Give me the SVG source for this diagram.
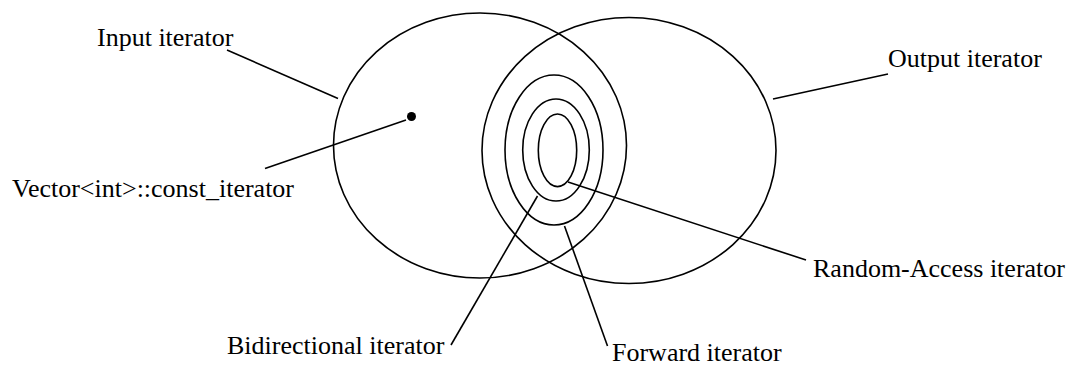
<svg xmlns="http://www.w3.org/2000/svg" width="1074" height="365" viewBox="0 0 1074 365">
<style>
.e{fill:none;stroke:#000;stroke-width:1.6}
.l{stroke:#000;stroke-width:1.6;fill:none}
text{font-family:"Liberation Serif","Times New Roman",serif;font-size:26px;fill:#000}
</style>
<rect width="1074" height="365" fill="#fff"/>
<g id="input-iterator">
<ellipse class="e" cx="480" cy="145.5" rx="146.5" ry="132.5"/>
<text x="97" y="46">Input iterator</text>
</g>
<g id="output-iterator">
<ellipse class="e" cx="629" cy="150.5" rx="147" ry="133"/>
<text x="888" y="67">Output iterator</text>
</g>
<g id="forward-iterator">
<ellipse class="e" cx="554" cy="150" rx="49" ry="75"/>
<text x="612" y="361">Forward iterator</text>
</g>
<g id="bidirectional-iterator">
<ellipse class="e" cx="556" cy="150" rx="33.3" ry="51"/>
<text x="227" y="354">Bidirectional iterator</text>
</g>
<g id="random-access-iterator">
<ellipse class="e" cx="557.5" cy="150.3" rx="19.2" ry="36.3"/>
<text x="813" y="277">Random-Access iterator</text>
</g>
<g id="vector-const-iterator">
<circle cx="411.5" cy="116.5" r="4.5" fill="#000"/>
<text x="12" y="197">Vector&lt;int&gt;::const_iterator</text>
</g>
<g id="connectors">
<line class="l" x1="227" y1="50" x2="338" y2="98.5"/>
<line class="l" x1="265" y1="168.5" x2="406" y2="120"/>
<line class="l" x1="773" y1="99" x2="888" y2="74"/>
<line class="l" x1="568" y1="182" x2="806" y2="260"/>
<line class="l" x1="537.5" y1="196" x2="451" y2="345"/>
<line class="l" x1="564.5" y1="226" x2="607.5" y2="346"/>
</g>
</svg>
